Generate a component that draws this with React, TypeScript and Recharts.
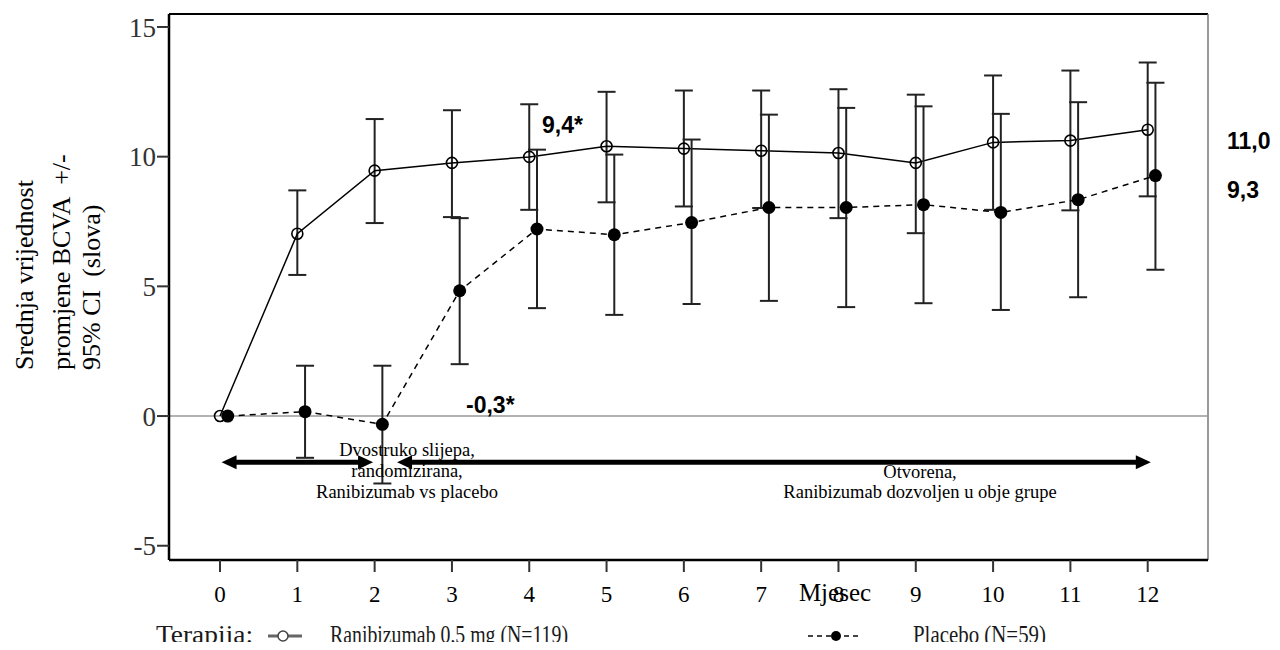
import React from 'react';
import { ComposedChart, Line, XAxis, YAxis, ErrorBar, ReferenceLine } from 'recharts';

const months = [0, 1, 2, 3, 4, 5, 6, 7, 8, 9, 10, 11, 12];
const raniMean = [0, 7.03, 9.46, 9.76, 9.99, 10.4, 10.31, 10.23, 10.14, 9.76, 10.55, 10.62, 11.04];
const raniLower = [null, 5.44, 7.44, 7.67, 7.95, 8.24, 8.08, 8.02, 7.63, 7.05, 7.95, 7.93, 8.47];
const raniUpper = [null, 8.7, 11.45, 11.79, 12.02, 12.5, 12.55, 12.55, 12.6, 12.39, 13.13, 13.32, 13.63];
const placeboMean = [0, 0.17, -0.32, 4.83, 7.21, 6.99, 7.46, 8.04, 8.04, 8.15, 7.85, 8.34, 9.27];
const placeboLower = [null, -1.61, -2.6, 2.0, 4.16, 3.9, 4.32, 4.44, 4.2, 4.35, 4.09, 4.58, 5.64];
const placeboUpper = [null, 1.94, 1.94, 7.63, 10.27, 10.08, 10.66, 11.62, 11.88, 11.94, 11.65, 12.1, 12.85];
const xTicks = [0, 1, 2, 3, 4, 5, 6, 7, 8, 9, 10, 11, 12];
const yTicks = [-5, 0, 5, 10, 15];
const PLACEBO_SHIFT = 0.1;
const X_DOMAIN = [-0.66, 12.78];
const Y_DOMAIN = [-5.55, 15.5];
const phaseArrows = [
  { from: 0.02, to: 1.98 },
  { from: 2.29, to: 12.04 },
];
const ARROW_Y = -1.78;

const build = (xs: number[], mean: number[], lo: (number | null)[], hi: (number | null)[], shift: number) =>
  xs.map((m, i) => ({
    x: m + shift,
    y: mean[i],
    err: lo[i] == null || hi[i] == null ? null : [mean[i] - (lo[i] as number), (hi[i] as number) - mean[i]],
  }));

const raniData = build(months, raniMean, raniLower, raniUpper, 0);
const placeboData = build(months, placeboMean, placeboLower, placeboUpper, PLACEBO_SHIFT);

const serif = '"Liberation Serif", "Times New Roman", serif';
const sans = '"Liberation Sans", Arial, sans-serif';

const OpenDot = (p: any) => (
  <circle key={`o${p.index}`} cx={p.cx} cy={p.cy} r={5.5} fill="none" stroke="#000" strokeWidth={1.6} />
);
const FilledDot = (p: any) => <circle key={`f${p.index}`} cx={p.cx} cy={p.cy} r={6.5} fill="#000" stroke="none" />;

const ArrowShape = (p: any) => {
  const { x1, y1, x2, y2 } = p;
  const hl = 15;
  const hw = 7;
  const left = Math.min(x1, x2);
  const right = Math.max(x1, x2);
  const y = (y1 + y2) / 2;
  return (
    <g>
      <line x1={left + hl - 1} y1={y} x2={right - hl + 1} y2={y} stroke="#000" strokeWidth={5} />
      <polygon points={`${left},${y} ${left + hl},${y - hw} ${left + hl},${y + hw}`} fill="#000" />
      <polygon points={`${right},${y} ${right - hl},${y - hw} ${right - hl},${y + hw}`} fill="#000" />
    </g>
  );
};

export default function App() {
  const W = 1264;
  const H = 634;
  return (
    <div style={{ position: 'relative', width: W, height: H + 8, marginBottom: -8 }}>
      <ComposedChart width={W} height={H} margin={{ top: 6, right: 64, bottom: 42, left: 0 }}>
        <XAxis
          dataKey="x"
          type="number"
          domain={X_DOMAIN}
          ticks={xTicks}
          allowDataOverflow
          interval={0}
          height={40}
          tickSize={12}
          tickMargin={14}
          axisLine={{ stroke: '#000', strokeWidth: 2.5 }}
          tickLine={{ stroke: '#333', strokeWidth: 2 }}
          tick={{ fontFamily: serif, fontSize: 23, fill: '#000' }}
        />
        <YAxis
          type="number"
          domain={Y_DOMAIN}
          ticks={yTicks}
          allowDataOverflow
          interval={0}
          width={161}
          tickSize={12}
          tickMargin={1}
          axisLine={{ stroke: '#000', strokeWidth: 2.5 }}
          tickLine={{ stroke: '#333', strokeWidth: 2 }}
          tick={{ fontFamily: serif, fontSize: 27, fill: '#333' }}
        />
        <ReferenceLine y={Y_DOMAIN[1]} stroke="#000" strokeWidth={2} />
        <ReferenceLine x={X_DOMAIN[1]} stroke="#777" strokeWidth={1.5} />
        <ReferenceLine y={0} stroke="#999" strokeWidth={1.5} />
        {phaseArrows.map((a, i) => (
          <ReferenceLine
            key={`arrow${i}`}
            segment={[
              { x: a.from, y: ARROW_Y },
              { x: a.to, y: ARROW_Y },
            ]}
            shape={ArrowShape}
          />
        ))}
        <Line
          data={raniData}
          dataKey="y"
          stroke="#000"
          strokeWidth={1.5}
          dot={OpenDot}
          activeDot={false}
          isAnimationActive={false}
        >
          <ErrorBar dataKey="err" width={9} stroke="#222" strokeWidth={2} direction="y" />
        </Line>
        <Line
          data={placeboData}
          dataKey="y"
          stroke="#000"
          strokeWidth={1.5}
          strokeDasharray="6 5"
          dot={FilledDot}
          activeDot={false}
          isAnimationActive={false}
        >
          <ErrorBar dataKey="err" width={9} stroke="#222" strokeWidth={2} direction="y" />
        </Line>
      </ComposedChart>
      <svg
        width={W}
        height={H + 8}
        style={{ position: 'absolute', left: 0, top: 0, pointerEvents: 'none', overflow: 'visible' }}
      >
        <g fontFamily={serif} fontSize={26} fill="#000">
          <text xmlSpace="preserve" transform="translate(25,362) rotate(-90)">Srednja vrijednost</text>
          <text xmlSpace="preserve" transform="translate(62,362) rotate(-90)">promjene BCVA  +/-</text>
          <text xmlSpace="preserve" transform="translate(92,362) rotate(-90)">95% CI  (slova)</text>
        </g>
        <g fontFamily={sans} fontWeight="bold" fontSize={23} fill="#000">
          <text x={534} y={125}>9,4*</text>
          <text x={458} y={405}>-0,3*</text>
          <text x={1219} y={141}>11,0</text>
          <text x={1219} y={190}>9,3</text>
        </g>
        <g fontFamily={serif} fontSize={18.5} fill="#000" textAnchor="middle">
          <text x={399} y={448}>Dvostruko slijepa,</text>
          <text x={399} y={469}>randomizirana,</text>
          <text x={399} y={490}>Ranibizumab vs placebo</text>
          <text x={912} y={470}>Otvorena,</text>
          <text x={912} y={490}>Ranibizumab dozvoljen u obje grupe</text>
        </g>
        <text x={827} y={593} fontFamily={serif} fontSize={25} textAnchor="middle" fill="#000">
          Mjesec
        </text>
        <g fontFamily={serif} fontSize={25} fill="#1a1a1a">
          <text x={148} y={635} textLength={97} lengthAdjust="spacingAndGlyphs">Terapija:</text>
          <line x1={260} y1={628} x2={294} y2={628} stroke="#666" strokeWidth={3} />
          <circle cx={275} cy={628} r={5} fill="#fff" stroke="#444" strokeWidth={1.5} />
          <text x={322} y={635} textLength={238} lengthAdjust="spacingAndGlyphs">Ranibizumab 0,5 mg (N=119)</text>
          <line x1={800} y1={628} x2={852} y2={628} stroke="#444" strokeWidth={2} strokeDasharray="5 4" />
          <circle cx={828} cy={628} r={5} fill="#000" />
          <text x={905} y={635} textLength={133} lengthAdjust="spacingAndGlyphs">Placebo (N=59)</text>
        </g>
      </svg>
    </div>
  );
}
